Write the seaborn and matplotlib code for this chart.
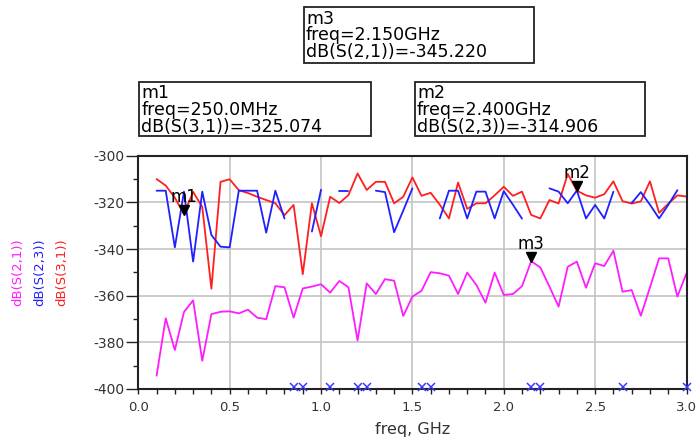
import numpy as np
import pandas as pd
import matplotlib
matplotlib.use("Agg")
import matplotlib.pyplot as plt
from matplotlib import transforms
from matplotlib.patches import Rectangle
from matplotlib.ticker import MultipleLocator, FormatStrFormatter
import seaborn as sns

# sweep 0.1 .. 3.0 GHz, 50 MHz step
freq = np.round(np.arange(0.10, 3.001, 0.05), 2)

s21 = [-394.3, -369.7, -383.3, -367.0, -362.0, -387.9, -367.9, -366.9, -366.7, -367.6,
       -366.0, -369.4, -370.1, -355.9, -356.4, -369.4, -356.9, -356.1, -355.1, -358.7,
       -353.7, -356.4, -379.2, -354.7, -359.3, -352.9, -353.6, -368.7, -360.4, -357.9,
       -349.9, -350.4, -351.4, -359.3, -350.1, -355.4, -363.0, -350.1, -359.7, -359.3,
       -355.9, -345.22, -347.9, -356.1, -364.7, -347.6, -345.4, -356.6, -346.1, -347.3,
       -340.7, -358.3, -357.6, -368.6, -356.5, -344.0, -344.0, -360.4, -350.4]

# nan = no finite value returned (ADS puts an x on the bottom axis)
s23 = [-315.0, -315.0, -339.3, -315.4, -345.4, -315.4, -334.0, -339.0, -339.3, -315.0,
       -315.0, -315.0, -333.0, -315.0, -326.9, np.nan, np.nan, -332.5, -314.6, np.nan,
       -315.0, -315.0, np.nan, np.nan, -315.0, -315.6, -332.8, -323.5, -314.0, np.nan,
       np.nan, -326.9, -315.0, -315.0, -326.9, -315.4, -315.4, -326.9, -315.2, -321.0,
       -327.0, np.nan, np.nan, -314.0, -315.4, -320.4, -314.906, -326.9, -321.1, -326.9,
       -315.4, np.nan, -320.3, -315.6, -321.0, -326.9, -321.1, -314.8, np.nan]

s31 = [-310.0, -312.8, -318.0, -325.074, -315.5, -322.0, -357.0, -311.2, -310.1, -314.8,
       -316.0, -317.6, -319.0, -320.4, -325.5, -321.1, -350.8, -320.4, -334.5, -317.6,
       -320.3, -316.9, -307.6, -314.7, -311.2, -311.2, -320.4, -317.6, -309.3, -317.2,
       -315.9, -321.0, -326.9, -311.5, -322.8, -320.4, -320.4, -317.0, -313.3, -317.2,
       -315.4, -325.4, -326.9, -319.0, -320.5, -307.8, -315.0, -317.0, -318.0, -316.5,
       -311.0, -319.5, -320.5, -319.6, -311.0, -324.5, -320.6, -317.0, -317.5]

mk_names = ["m1", "m2", "m3"]
mk_freq = [0.25, 2.40, 2.15]
mk_vals = [-325.074, -314.906, -345.220]
mk_freq_txt = ["freq=250.0MHz", "freq=2.400GHz", "freq=2.150GHz"]
mk_meas_txt = ["dB(S(3,1))=-325.074", "dB(S(2,3))=-314.906", "dB(S(2,1))=-345.220"]

trace_names = ["dB(S(2,1))", "dB(S(2,3))", "dB(S(3,1))"]
trace_colors = ["#ff1cff", "#2020ff", "#ff1f1f"]

sns.set_theme(style="ticks")
plt.rcParams["font.family"] = ["DejaVu Sans"]
plt.rcParams["axes.unicode_minus"] = False

W, H = 698, 443
fig = plt.figure(figsize=(W / 100, H / 100), dpi=100)
fig.patch.set_facecolor("white")
ax = fig.add_axes([138.3 / W, 1 - 389 / H, 548.2 / W, 233.3 / H])

df = pd.DataFrame({"freq": freq, "s21": s21, "s23": s23, "s31": s31})
df["seg"] = df["s23"].isna().cumsum()

sns.lineplot(data=df, x="freq", y="s31", color=trace_colors[2], lw=1.3, ax=ax)
sns.lineplot(data=df.dropna(subset=["s23"]), x="freq", y="s23", units="seg",
             estimator=None, color=trace_colors[1], lw=1.3, ax=ax)
sns.lineplot(data=df, x="freq", y="s21", color=trace_colors[0], lw=1.3, ax=ax)

ylim = (-400, -300)
ax.set_xlim(0, 3.0)
ax.set_ylim(*ylim)

# missing S(2,3) points sit on the bottom axis
miss = df[df["s23"].isna()]
up2 = transforms.offset_copy(ax.transData, fig=fig, y=2, units="dots")
ax.plot(miss["freq"], np.full(len(miss), ylim[0]), "x", color="#3a3aff",
        ms=5.5, mew=1.1, clip_on=False, transform=up2, zorder=5)

# marker triangles + labels
tri = transforms.offset_copy(ax.transData, fig=fig, y=4, units="dots")
ax.plot(mk_freq, mk_vals, "v", color="black", ms=7, transform=tri, zorder=6)
lab = transforms.offset_copy(ax.transData, fig=fig, y=12, units="dots")
for n, f, v in zip(mk_names, mk_freq, mk_vals):
    ax.text(f, v, n, transform=lab, ha="center", va="baseline", fontsize=12,
            color="black", zorder=7)

ax.xaxis.set_major_locator(MultipleLocator(0.5))
ax.xaxis.set_minor_locator(MultipleLocator(0.1))
ax.yaxis.set_major_locator(MultipleLocator(20))
ax.yaxis.set_minor_locator(MultipleLocator(10))
ax.xaxis.set_major_formatter(FormatStrFormatter("%.1f"))
ax.yaxis.set_major_formatter(FormatStrFormatter("%d"))

ax.grid(which="major", color="#c4c4c4", lw=1.2)
ax.set_axisbelow(True)
ax.tick_params(axis="y", which="major", left=True, length=8.5, width=1,
               color="#222222", pad=1.5, labelsize=10, labelcolor="#333333")
ax.tick_params(axis="y", which="minor", left=True, length=3.6, width=1, color="#222222")
ax.tick_params(axis="x", which="both", bottom=True, length=3.6, width=1,
               color="#222222", pad=5, labelsize=9.5, labelcolor="#333333")
for s in ax.spines.values():
    s.set_color("#222222")
    s.set_linewidth(1.5)

ax.set_xlabel("freq, GHz", fontsize=11.5, color="#333333")
ax.xaxis.set_label_coords(0.5, -0.14)
ax.set_ylabel("")

# stacked coloured y labels
for xp, name, c in zip([18, 40, 62], trace_names, trace_colors):
    fig.text(xp / W, 1 - 272 / H, name, rotation=90, ha="center", va="center",
             fontsize=9.5, color=c)

# marker readout boxes (pixel layout: x0, y0, x1, y1)
box_px = {"m3": (304, 7.5, 534, 62.5), "m1": (139.3, 82.3, 370.7, 136),
          "m2": (415, 82.3, 644.7, 136)}
for n, ft, mt in zip(mk_names, mk_freq_txt, mk_meas_txt):
    x0, y0, x1, y1 = box_px[n]
    fig.add_artist(Rectangle((x0 / W, 1 - y1 / H), (x1 - x0) / W, (y1 - y0) / H,
                             transform=fig.transFigure, fill=True, fc="white",
                             ec="#222222", lw=1.3))
    for dy, s in zip([16, 32.7, 49.4], [n, ft, mt]):
        fig.text((x0 + 2) / W, 1 - (y0 + dy) / H, s, ha="left", va="baseline",
                 fontsize=12.5, color="black")

fig.savefig("out.png", dpi=100)
